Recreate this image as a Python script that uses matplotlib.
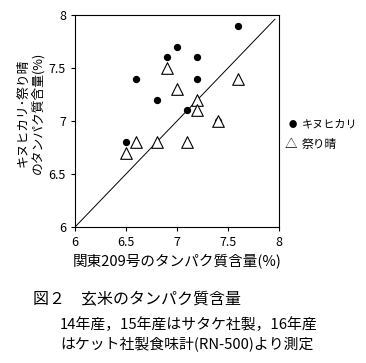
import matplotlib
matplotlib.use("Agg")
import matplotlib.pyplot as plt

plt.rcParams['font.family'] = ['Noto Sans CJK JP', 'DejaVu Sans']

koshi_x = [6.5, 6.6, 6.8, 6.9, 7.0, 7.1, 7.2, 7.2, 7.4, 7.6]
koshi_y = [6.8, 7.4, 7.2, 7.6, 7.7, 7.1, 7.6, 7.4, 7.0, 7.9]
matsuri_x = [6.5, 6.6, 6.8, 6.9, 7.0, 7.1, 7.2, 7.2, 7.4, 7.6]
matsuri_y = [6.7, 6.8, 6.8, 7.5, 7.3, 6.8, 7.2, 7.1, 7.0, 7.4]
ticks = [6, 6.5, 7, 7.5, 8]
tick_labels = ['6', '6.5', '7', '7.5', '8']
legend_labels = ['キヌヒカリ', '祭り晴']

fig = plt.figure(figsize=(3.66, 3.63), dpi=100)
W, H = 366, 363
ax = fig.add_axes([75 / W, 1 - 227 / H, (279 - 75) / W, (227 - 15) / H])
ax.plot([6, 7.96], [6, 7.96], color='black', lw=0.7)
ax.scatter(koshi_x, koshi_y, marker='o', s=18, color='black', zorder=3)
ax.scatter(matsuri_x, matsuri_y, marker='^', s=70, facecolor='white', edgecolor='black', linewidths=0.8, zorder=4)
ax.set_xlim(6, 8)
ax.set_ylim(6, 8)
ax.set_xticks(ticks)
ax.set_xticklabels(tick_labels)
ax.set_yticks(ticks)
ax.set_yticklabels(tick_labels)
ax.tick_params(labelsize=9, direction='out', length=3, width=0.8)
for s in ax.spines.values():
    s.set_linewidth(0.8)

ax.set_xlabel('関東209号のタンパク質含量(%)', fontsize=10.5)
ax.xaxis.set_label_coords(0.5, -(254 - 227) / 212)
ax.set_ylabel('キヌヒカリ･祭り晴\nのタンパク質含量(%)', fontsize=9.2, linespacing=1.1)
ax.yaxis.set_label_coords((44 - 75) / 204, (227 - 113) / 212)

# legend
fig.text(293 / W, 1 - 125 / H, '●', fontsize=6, ha='center', va='center')
fig.text(302 / W, 1 - 125 / H, legend_labels[0], fontsize=8, ha='left', va='center')
fig.text(291 / W, 1 - 145 / H, '△', fontsize=9, ha='center', va='center')
fig.text(302 / W, 1 - 145 / H, legend_labels[1], fontsize=8.5, ha='left', va='center')

fig.text(33 / W, 1 - 300 / H, '図２　玄米のタンパク質含量', fontsize=11.5, ha='left', va='center')
fig.text(60 / W, 1 - 325 / H, '14年産，15年産はサタケ社製，16年産', fontsize=10.7, ha='left', va='center')
fig.text(60 / W, 1 - 345 / H, 'はケット社製食味計(RN-500)より測定', fontsize=10.7, ha='left', va='center')

fig.savefig('out.png', dpi=100)
